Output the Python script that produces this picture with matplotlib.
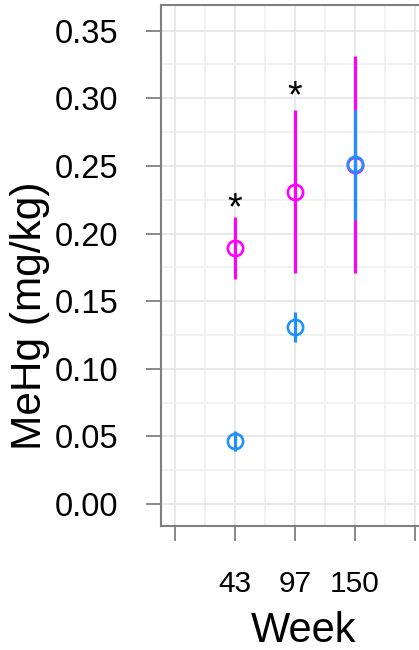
import matplotlib
matplotlib.use("Agg")
import matplotlib.pyplot as plt

plt.rcParams['font.family'] = ['Liberation Sans', 'DejaVu Sans']

weeks = ["43", "97", "150"]
pos = [1, 2, 3]

# magenta series
mag_mean = [0.189, 0.231, 0.251]
mag_lo = [0.166, 0.171, 0.171]
mag_hi = [0.2125, 0.291, 0.331]
# blue series
blue_mean = [0.0466, 0.131, 0.2513]
blue_lo = [0.039, 0.120, 0.210]
blue_hi = [0.054, 0.1418, 0.291]

star_pos = [1, 2]
star_y = [0.225, 0.308]

MAG = "#FF00FF"
BLUE = "#1E90FF"

W, H = 419, 650
fig = plt.figure(figsize=(W/100, H/100), dpi=100)
ax = fig.add_axes([161/W, 1-526/H, (429-161)/W, (526-5)/H])

ax.set_xlim(-0.233, 4.233)
ax.set_ylim(-0.0163, 0.369)

# grid
for v in [i*0.5 for i in range(0, 9)]:
    ax.axvline(v, color="#e4e4e4" if v == int(v) else "#efefef", lw=1.2, zorder=0)
for k in range(0, 15):
    v = k*0.025
    ax.axhline(v, color="#e4e4e4" if k % 2 == 0 else "#efefef", lw=1.2, zorder=0)

ms = 11
for x, m, lo, hi in zip(pos, mag_mean, mag_lo, mag_hi):
    ax.plot([x, x], [lo, hi], color=MAG, lw=2.3, solid_capstyle="butt", zorder=2)
for x, m in zip(pos, mag_mean):
    ax.plot([x], [m], marker="o", ms=ms, mfc="none", mec=MAG, mew=1.9, zorder=3, ls="none")
for x, m, lo, hi in zip(pos, blue_mean, blue_lo, blue_hi):
    ax.plot([x, x], [lo, hi], color=BLUE, lw=2.3, solid_capstyle="butt", zorder=4)
    ax.plot([x], [m], marker="o", ms=ms, mfc="none", mec=BLUE, mew=1.9, zorder=5, ls="none")

for x, y in zip(star_pos, star_y):
    ax.annotate("*", (x, y), xytext=(0, -7), textcoords="offset points",
                ha="center", va="center", fontsize=27, color="black")

ax.set_xticks([0] + pos + [4])
ax.set_xticklabels([""] + weeks + [""], fontsize=21.5)
ax.set_yticks([0, 0.05, 0.10, 0.15, 0.20, 0.25, 0.30, 0.35])
ax.set_yticklabels(["0.00", "0.05", "0.10", "0.15", "0.20", "0.25", "0.30", "0.35"], fontsize=23.5)

for s in ax.spines.values():
    s.set_color("#7f7f7f")
    s.set_linewidth(1.5)
ax.tick_params(axis="both", color="#7f7f7f", width=1.3, length=11)
ax.tick_params(axis="y", pad=19.5)
ax.tick_params(axis="x", pad=20.5)

fig.text(304/W, 1-642/H, "Week", fontsize=30, ha="center", va="baseline")
fig.text(30/W, 1-316/H, "MeHg (mg/kg)", fontsize=30.5, ha="center", va="center", rotation=90)

fig.savefig("out.png", dpi=100)
